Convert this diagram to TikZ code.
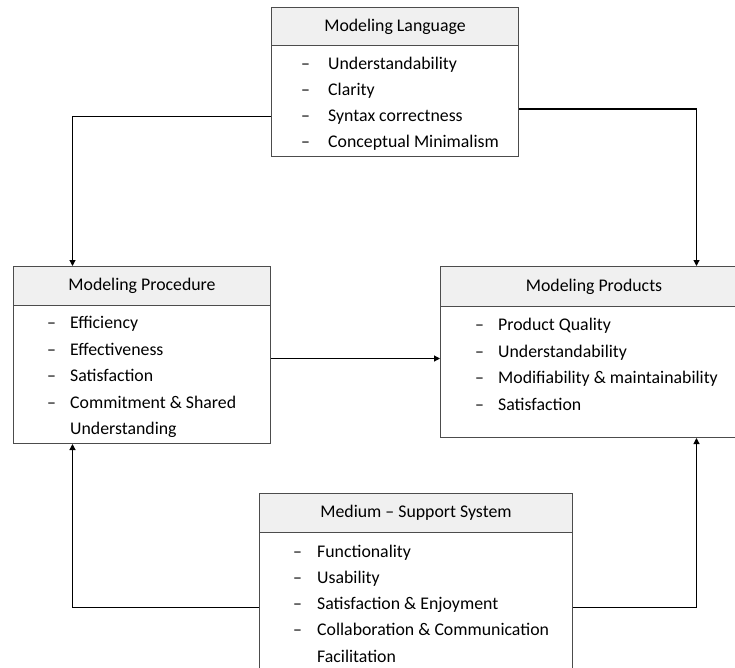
\documentclass[tikz,border=0pt]{standalone}
\usepackage{fontspec}
\setmainfont{Carlito}
\usetikzlibrary{arrows.meta,calc}
\begin{document}
\begin{tikzpicture}[x=1pt,y=-1pt,
  font=\fontsize{17.8}{21}\selectfont,
  bodybox/.style={draw=black!70, line width=1pt, inner sep=0pt, anchor=north west},
  hdr/.style={bodybox, fill=black!6},
  item/.style={anchor=base west, inner sep=0pt},
  conn/.style={draw=black, line width=1.1pt, -{Triangle[length=6pt,width=6pt]}}]
\useasboundingbox (0,0) rectangle (735,668);
% bodies
\node[bodybox, minimum width=247pt, minimum height=111pt] (mlb) at (271,45) {};
\node[bodybox, minimum width=257pt, minimum height=138pt] (prb) at (13,305) {};
\node[bodybox, minimum width=307pt, minimum height=131pt] (pdb) at (440,306) {};
\node[bodybox, minimum width=313pt, minimum height=140pt] (medb) at (259,532) {};
% headers
\node[hdr, minimum width=247pt, minimum height=38pt] (mlh) at (271,7) {Modeling Language};
\node[hdr, minimum width=257pt, minimum height=39pt] (prh) at (13,266) {Modeling Procedure};
\node[hdr, minimum width=307pt, minimum height=40pt] (pdh) at (440,266) {Modeling Products};
\node[hdr, minimum width=313pt, minimum height=39pt] (medh) at (259,493) {Medium -- Support System};
% items (baselines)
\foreach \t/\y [count=\i] in {Understandability/70, Clarity/96, Syntax correctness/122, Conceptual Minimalism/148}{
  \node[item] (mld\i) at (301,\y) {--};
  \node[item] (mlt\i) at (328,\y) {\t};
}
\foreach \t/\y [count=\i] in {Efficiency/328, Effectiveness/355, Satisfaction/381, Commitment \& Shared/408}{
  \node[item] (prd\i) at (47,\y) {--};
  \node[item] (prt\i) at (70,\y) {\t};
}
\node[item] (prt5) at (70,434) {Understanding};
\foreach \t/\y [count=\i] in {Product Quality/330, Understandability/357, Modifiability \& maintainability/383, Satisfaction/410}{
  \node[item] (pdd\i) at (475,\y) {--};
  \node[item] (pdt\i) at (498,\y) {\t};
}
\foreach \t/\y [count=\i] in {Functionality/557, Usability/583, Satisfaction \& Enjoyment/609, Collaboration \& Communication/635}{
  \node[item] (medd\i) at (293,\y) {--};
  \node[item] (medt\i) at (317,\y) {\t};
}
\node[item] (medt5) at (317,662) {Facilitation};
% connectors
\draw[conn] ([yshift=-15.5pt]mlb.west) -| ([xshift=-69.5pt]prh.north);
\draw[conn] ([yshift=-8pt]mlb.east) -| ([xshift=102.5pt]pdh.north);
\draw[conn] ([yshift=16pt]prb.east) -- ([yshift=16pt]prb.east -| pdb.west);
\draw[conn] ([yshift=-5pt]medb.west) -| ([xshift=-69.5pt]prb.south);
\draw[conn] ([yshift=-5pt]medb.east) -| ([xshift=102.5pt]pdb.south);
\end{tikzpicture}
\end{document}
